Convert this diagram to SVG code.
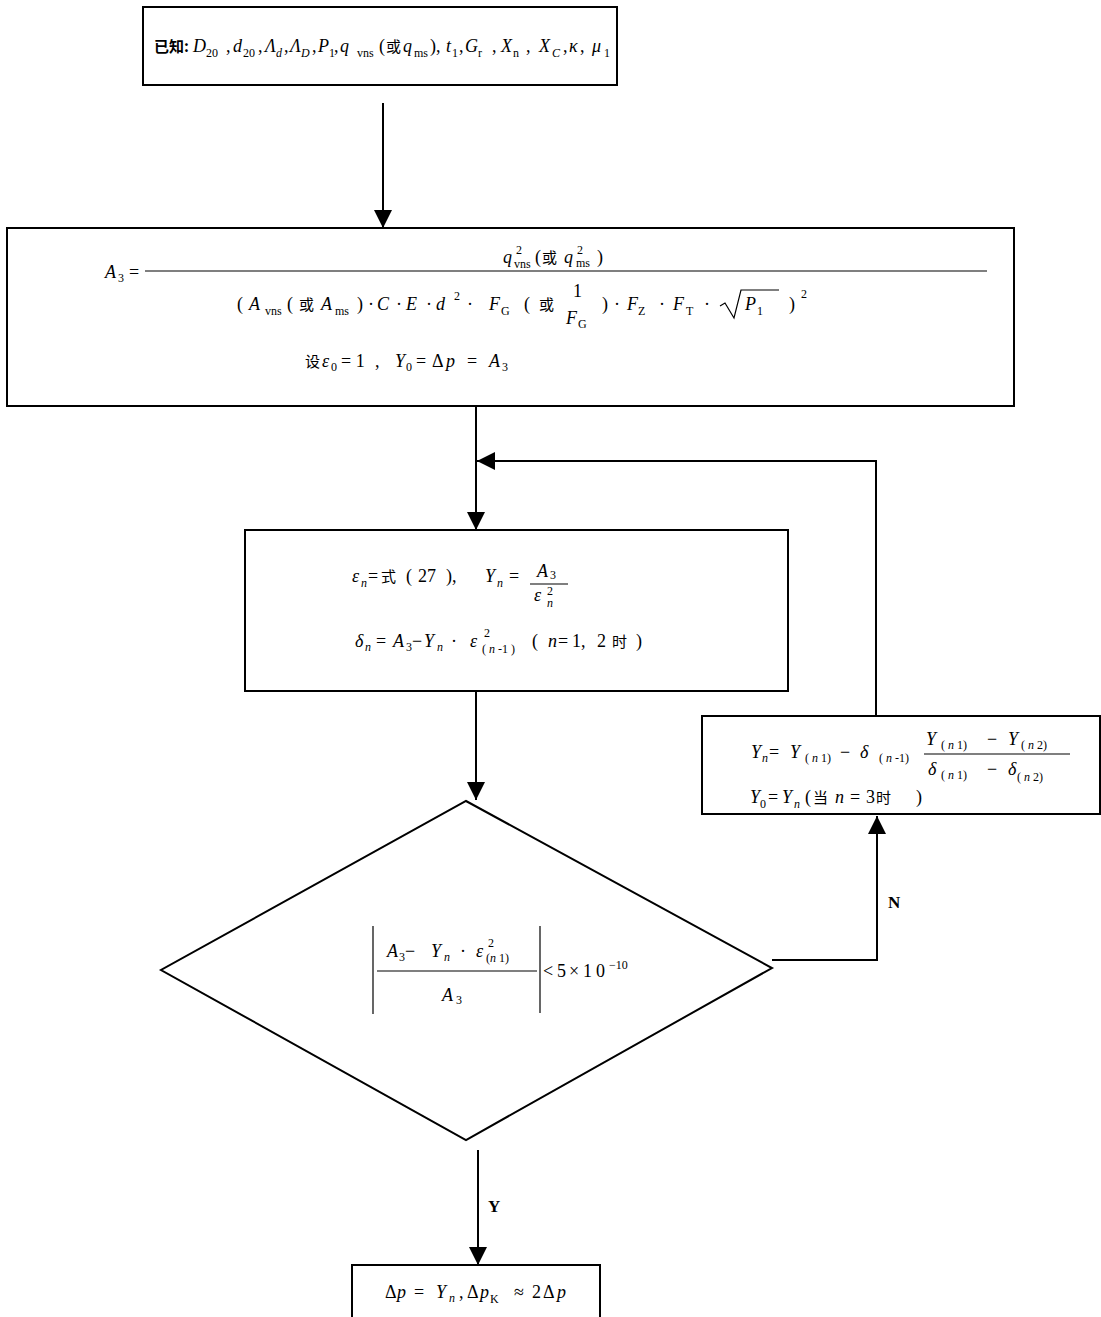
<svg xmlns="http://www.w3.org/2000/svg" width="1101" height="1317" viewBox="0 0 1101 1317">
<style>
.box{fill:#fff;stroke:#000;stroke-width:2}
.ln{fill:none;stroke:#000;stroke-width:2}
.fr{stroke:#000;stroke-width:1.2;fill:none}
.t{font-family:"Liberation Serif","Noto Sans CJK SC",serif;font-size:18px;fill:#000}
.i{font-style:italic}
.sm{font-size:12px}
.c{font-family:"Noto Sans CJK SC",sans-serif;font-size:15px}
.b{font-weight:bold}
.lb{font-family:"Liberation Serif",serif;font-size:17px;font-weight:bold;fill:#000}
</style>
<defs>
<marker id="ah" markerWidth="20" markerHeight="20" refX="18" refY="9" orient="auto" markerUnits="userSpaceOnUse"><path d="M0,0 L18,9 L0,18 z" fill="#000"/></marker>
</defs>
<rect width="1101" height="1317" fill="#fff"/>

<g id="connectors">
<path class="ln" d="M383,103 V228" marker-end="url(#ah)"/>
<path class="ln" d="M476,406 V530" marker-end="url(#ah)"/>
<path class="ln" d="M876,716 V461 H477" marker-end="url(#ah)"/>
<path class="ln" d="M476,691 V800" marker-end="url(#ah)"/>
<path class="ln" d="M772,960 H877 V816" marker-end="url(#ah)"/>
<path class="ln" d="M478,1150 V1265" marker-end="url(#ah)"/>
<text class="lb" x="888" y="908">N</text>
<text class="lb" x="488" y="1212">Y</text>
</g>

<g id="known">
<rect class="box" x="143" y="7" width="474" height="78"/>
<text class="t"><tspan x="154" y="52" class="c b">已知:</tspan><tspan x="193" y="52" class="i">D</tspan><tspan x="206" y="57" class="sm">20</tspan><tspan x="226" y="52">,</tspan><tspan x="233" y="52" class="i">d</tspan><tspan x="243" y="57" class="sm">20</tspan><tspan x="258" y="52">,</tspan><tspan x="265" y="52" class="i">Λ</tspan><tspan x="276" y="57" class="sm i">d</tspan><tspan x="284" y="52">,</tspan><tspan x="290" y="52" class="i">Λ</tspan><tspan x="301" y="57" class="sm i">D</tspan><tspan x="312" y="52">,</tspan><tspan x="318" y="52" class="i">P</tspan><tspan x="329" y="57" class="sm">1</tspan><tspan x="334" y="52">,</tspan><tspan x="340" y="52" class="i">q</tspan><tspan x="357" y="57" class="sm">vns</tspan><tspan x="379" y="52">(</tspan><tspan x="386" y="52" class="c">或</tspan><tspan x="403" y="52" class="i">q</tspan><tspan x="414" y="57" class="sm">ms</tspan><tspan x="430" y="52">),</tspan><tspan x="446" y="52" class="i">t</tspan><tspan x="452" y="57" class="sm">1</tspan><tspan x="459" y="52">,</tspan><tspan x="465" y="52" class="i">G</tspan><tspan x="478" y="57" class="sm">r</tspan><tspan x="492" y="52">,</tspan><tspan x="501" y="52" class="i">X</tspan><tspan x="513" y="57" class="sm">n</tspan><tspan x="526" y="52">,</tspan><tspan x="539" y="52" class="i">X</tspan><tspan x="552" y="57" class="sm i">C</tspan><tspan x="563" y="52">,</tspan><tspan x="569" y="52" class="i">κ</tspan><tspan x="580" y="52">,</tspan><tspan x="592" y="52" class="i">μ</tspan><tspan x="604" y="57" class="sm">1</tspan></text>
</g>

<g id="a3">
<rect class="box" x="7" y="228" width="1007" height="178"/>
<text class="t"><tspan x="105" y="278" class="i">A</tspan><tspan x="118" y="282" class="sm">3</tspan><tspan x="129" y="278">=</tspan></text>
<line class="fr" x1="145" y1="271" x2="987" y2="271"/>
<text class="t"><tspan x="503" y="263" class="i">q</tspan><tspan x="516" y="254" class="sm">2</tspan><tspan x="514" y="268" class="sm">vns</tspan><tspan x="535" y="263">(</tspan><tspan x="542" y="263" class="c">或</tspan><tspan x="564" y="263" class="i">q</tspan><tspan x="577" y="254" class="sm">2</tspan><tspan x="576" y="267" class="sm">ms</tspan><tspan x="597" y="263">)</tspan></text>
<text class="t"><tspan x="237" y="310">(</tspan><tspan x="249" y="310" class="i">A</tspan><tspan x="265" y="315" class="sm">vns</tspan><tspan x="287" y="310">(</tspan><tspan x="299" y="310" class="c">或</tspan><tspan x="321" y="310" class="i">A</tspan><tspan x="335" y="315" class="sm">ms</tspan><tspan x="357" y="310">)</tspan><tspan x="368" y="310">·</tspan><tspan x="377" y="310" class="i">C</tspan><tspan x="396" y="310">·</tspan><tspan x="406" y="310" class="i">E</tspan><tspan x="426" y="310">·</tspan><tspan x="436" y="310" class="i">d</tspan><tspan x="454" y="300" class="sm">2</tspan><tspan x="467" y="310">·</tspan><tspan x="489" y="310" class="i">F</tspan><tspan x="501" y="315" class="sm">G</tspan><tspan x="524" y="310">(</tspan><tspan x="539" y="310" class="c">或</tspan><tspan x="573" y="297">1</tspan><tspan x="566" y="324" class="i">F</tspan><tspan x="578" y="328" class="sm">G</tspan><tspan x="602" y="310">)</tspan><tspan x="614" y="310">·</tspan><tspan x="627" y="310" class="i">F</tspan><tspan x="638" y="315" class="sm">Z</tspan><tspan x="659" y="310">·</tspan><tspan x="673" y="310" class="i">F</tspan><tspan x="686" y="315" class="sm">T</tspan><tspan x="704" y="310">·</tspan><tspan x="745" y="310" class="i">P</tspan><tspan x="757" y="315" class="sm">1</tspan><tspan x="789" y="310">)</tspan><tspan x="801" y="298" class="sm">2</tspan></text>
<path class="fr" d="M720,306 L725,303 L734,318 L741,290 H779"/>
<text class="t"><tspan x="305" y="367" class="c">设</tspan><tspan x="322" y="367" class="i">ε</tspan><tspan x="331" y="371" class="sm">0</tspan><tspan x="341" y="367">= 1</tspan><tspan x="375" y="367">,</tspan><tspan x="395" y="367" class="i">Y</tspan><tspan x="406" y="371" class="sm">0</tspan><tspan x="416" y="367">=</tspan><tspan x="432" y="367">Δ</tspan><tspan x="446" y="367" class="i">p</tspan><tspan x="467" y="367">=</tspan><tspan x="489" y="367" class="i">A</tspan><tspan x="502" y="371" class="sm">3</tspan></text>
</g>

<g id="iterate">
<rect class="box" x="245" y="530" width="543" height="161"/>
<text class="t"><tspan x="352" y="582" class="i">ε</tspan><tspan x="361" y="587" class="sm i">n</tspan><tspan x="368" y="582">=</tspan><tspan x="381" y="582" class="c">式</tspan><tspan x="406" y="582">(</tspan><tspan x="418" y="582">27</tspan><tspan x="446" y="582">),</tspan><tspan x="485" y="582" class="i">Y</tspan><tspan x="497" y="587" class="sm i">n</tspan><tspan x="509" y="582">=</tspan><tspan x="537" y="577" class="i">A</tspan><tspan x="550" y="579" class="sm">3</tspan><tspan x="534" y="601" class="i">ε</tspan><tspan x="547" y="595" class="sm">2</tspan><tspan x="547" y="607" class="sm i">n</tspan></text>
<line class="fr" x1="530" y1="584" x2="568" y2="584"/>
<text class="t"><tspan x="355" y="647" class="i">δ</tspan><tspan x="365" y="651" class="sm i">n</tspan><tspan x="376" y="647">=</tspan><tspan x="393" y="647" class="i">A</tspan><tspan x="406" y="651" class="sm">3</tspan><tspan x="412" y="647">−</tspan><tspan x="424" y="647" class="i">Y</tspan><tspan x="437" y="651" class="sm i">n</tspan><tspan x="451" y="647">·</tspan><tspan x="470" y="647" class="i">ε</tspan><tspan x="484" y="637" class="sm">2</tspan><tspan x="482" y="653" class="sm">( <tspan class="i">n</tspan> -1 )</tspan><tspan x="532" y="647">(</tspan><tspan x="548" y="647" class="i">n</tspan><tspan x="558" y="647">=</tspan><tspan x="572" y="647">1</tspan><tspan x="581" y="647">,</tspan><tspan x="597" y="647">2</tspan><tspan x="612" y="647" class="c">时</tspan><tspan x="636" y="647">)</tspan></text>
</g>

<g id="update">
<rect class="box" x="702" y="716" width="398" height="98"/>
<text class="t"><tspan x="751" y="758" class="i">Y</tspan><tspan x="762" y="762" class="sm i">n</tspan><tspan x="769" y="758">=</tspan><tspan x="790" y="758" class="i">Y</tspan><tspan x="805" y="762" class="sm">( <tspan class="i">n</tspan>  1)</tspan><tspan x="840" y="758">−</tspan><tspan x="860" y="758" class="i">δ</tspan><tspan x="879" y="762" class="sm">( <tspan class="i">n</tspan> -1)</tspan><tspan x="926" y="745" class="i">Y</tspan><tspan x="941" y="749" class="sm">( <tspan class="i">n</tspan>  1)</tspan><tspan x="987" y="745">−</tspan><tspan x="1008" y="745" class="i">Y</tspan><tspan x="1021" y="749" class="sm">( <tspan class="i">n</tspan>  2)</tspan><tspan x="928" y="775" class="i">δ</tspan><tspan x="941" y="779" class="sm">( <tspan class="i">n</tspan>  1)</tspan><tspan x="987" y="775">−</tspan><tspan x="1008" y="775" class="i">δ</tspan><tspan x="1017" y="781" class="sm">( <tspan class="i">n</tspan>  2)</tspan></text>
<line class="fr" x1="924" y1="754" x2="1070" y2="754"/>
<text class="t"><tspan x="750" y="803" class="i">Y</tspan><tspan x="760" y="808" class="sm">0</tspan><tspan x="768" y="803">=</tspan><tspan x="782" y="803" class="i">Y</tspan><tspan x="794" y="808" class="sm i">n</tspan><tspan x="805" y="803">(</tspan><tspan x="813" y="803" class="c">当</tspan><tspan x="835" y="803" class="i">n</tspan><tspan x="850" y="803">=</tspan><tspan x="866" y="803">3</tspan><tspan x="876" y="803" class="c">时</tspan><tspan x="916" y="803">)</tspan></text>
</g>

<g id="check">
<polygon class="box" points="466,801 772,968 466,1140 161,970"/>
<line class="fr" x1="373" y1="926" x2="373" y2="1014"/>
<line class="fr" x1="540" y1="926" x2="540" y2="1013"/>
<text class="t"><tspan x="387" y="957" class="i">A</tspan><tspan x="399" y="961" class="sm">3</tspan><tspan x="405" y="957">−</tspan><tspan x="431" y="957" class="i">Y</tspan><tspan x="444" y="961" class="sm i">n</tspan><tspan x="460" y="957">·</tspan><tspan x="476" y="957" class="i">ε</tspan><tspan x="488" y="947" class="sm">2</tspan><tspan x="486" y="962" class="sm">(<tspan class="i">n</tspan>  1)</tspan><tspan x="442" y="1001" class="i">A</tspan><tspan x="456" y="1004" class="sm">3</tspan><tspan x="543" y="977">&lt;</tspan><tspan x="557" y="977">5</tspan><tspan x="569" y="977">×</tspan><tspan x="583" y="977">1</tspan><tspan x="596" y="977">0</tspan><tspan x="609" y="969" class="sm">−10</tspan></text>
<line class="fr" x1="377" y1="971" x2="537" y2="971"/>
</g>

<g id="result">
<rect class="box" x="352" y="1265" width="248" height="60"/>
<text class="t"><tspan x="385" y="1298">Δ</tspan><tspan x="397" y="1298" class="i">p</tspan><tspan x="414" y="1298">=</tspan><tspan x="436" y="1298" class="i">Y</tspan><tspan x="449" y="1302" class="sm i">n</tspan><tspan x="459" y="1298">,</tspan><tspan x="467" y="1298">Δ</tspan><tspan x="480" y="1298" class="i">p</tspan><tspan x="490" y="1303" class="sm">K</tspan><tspan x="514" y="1298">≈</tspan><tspan x="532" y="1298">2</tspan><tspan x="543" y="1298">Δ</tspan><tspan x="557" y="1298" class="i">p</tspan></text>
</g>
</svg>
